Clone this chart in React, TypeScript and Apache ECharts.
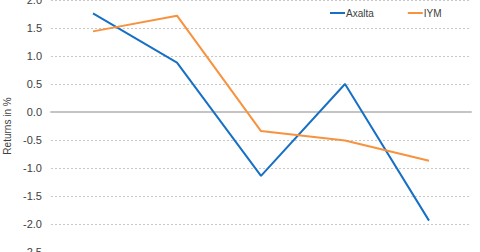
import React, { useEffect, useRef } from "react";
import * as echarts from "echarts";

const categories = ["P1", "P2", "P3", "P4", "P5"];
const axalta = [1.76, 0.88, -1.14, 0.5, -1.94];
const iym = [1.44, 1.72, -0.34, -0.51, -0.87];
const yTicks = { min: -2.5, max: 2.0, interval: 0.5 };

export default function App() {
  const ref = useRef<HTMLDivElement>(null);
  useEffect(() => {
    const chart = echarts.init(ref.current!, null, { renderer: "svg" });
    chart.setOption({
      animation: false,
      textStyle: { fontFamily: "Liberation Sans, Arial, sans-serif" },
      legend: {
        top: 3,
        left: 325,
        icon: "rect",
        itemWidth: 15,
        itemHeight: 2,
        itemGap: 34,
        textStyle: { fontSize: 10, color: "#404040", padding: [0, 0, 0, -4] },
        data: ["Axalta", "IYM"],
      },
      grid: { left: 51, right: 9, top: 0, bottom: 0, containLabel: false, outerBoundsMode: "none" },
      xAxis: {
        type: "category",
        data: categories,
        boundaryGap: true,
        axisLabel: { show: false },
        axisTick: { show: false },
        axisLine: { show: true, onZero: true, lineStyle: { color: "#c4c4c4", width: 2 } },
      },
      yAxis: {
        type: "value",
        min: yTicks.min,
        max: yTicks.max,
        interval: yTicks.interval,
        name: "Returns in %",
        nameLocation: "middle",
        nameGap: 38,
        nameTextStyle: { fontSize: 10, color: "#404040" },
        axisLine: { show: false },
        axisTick: { show: false },
        axisLabel: {
          fontSize: 11,
          color: "#404040",
          margin: 9,
          formatter: (v: number) => v.toFixed(1),
        },
        splitLine: { lineStyle: { color: "#c8c8c8", type: [2, 2], width: 1 } },
      },
      series: [
        {
          name: "Axalta",
          type: "line",
          data: axalta,
          symbol: "none",
          lineStyle: { color: "#1770c4", width: 2 },
          itemStyle: { color: "#1770c4" },
        },
        {
          name: "IYM",
          type: "line",
          data: iym,
          symbol: "none",
          lineStyle: { color: "#f7923e", width: 2 },
          itemStyle: { color: "#f7923e" },
        },
      ],
    });
    return () => chart.dispose();
  }, []);
  return <div ref={ref} style={{ width: 480, height: 252, position: "absolute", left: 0, top: 0 }} />;
}
